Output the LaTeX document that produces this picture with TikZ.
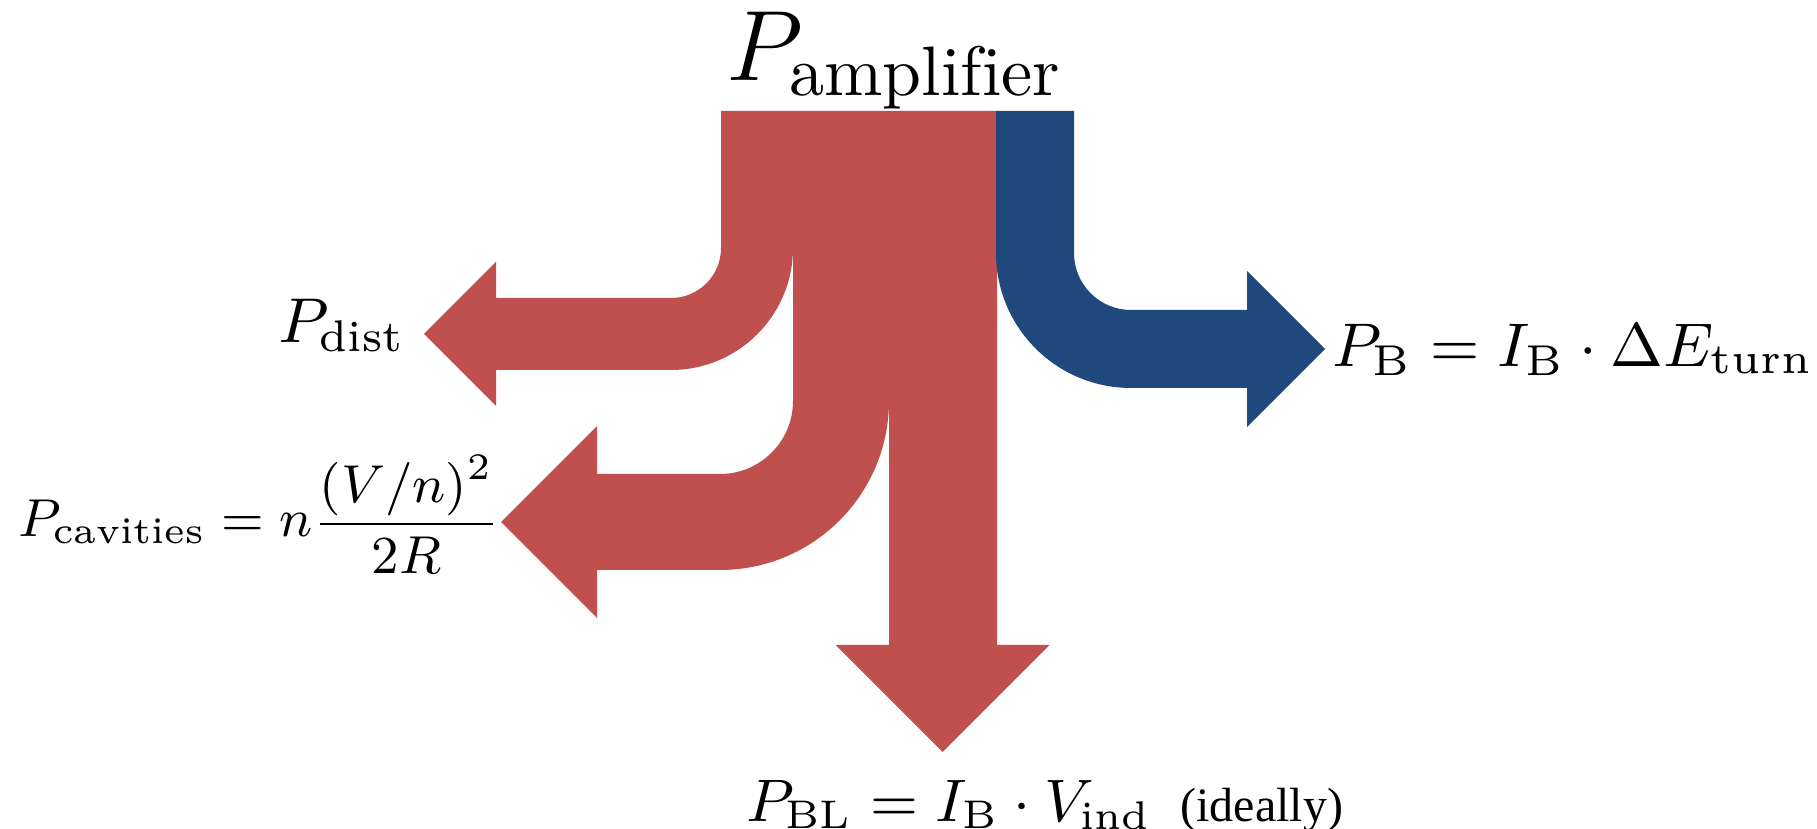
\RequirePackage{fix-cm}
\documentclass[tikz,border=0pt]{standalone}
\usepackage{fontspec}
\usepackage{amsmath}
\newfontfamily\remarkfont{Liberation Serif}
\definecolor{lossred}{RGB}{192,80,77}
\definecolor{beamblue}{RGB}{31,73,125}

\begin{document}
\begin{tikzpicture}[x=0.15pt, y=0.15pt,
		lbl/.style={inner sep=0pt, anchor=base west}]
			\useasboundingbox (0,0) rectangle (1817,829);
			\def\yt{718}
			% red part of the amplifier power: dist, cavities, beam loading
			\fill[lossred]
				(721,\yt) -- (721,581) arc[start angle=0, end angle=-90, radius=50]
				-- (496,531) -- (496,567) -- (424,495) -- (496,423) -- (496,459) -- (671,459)
				arc[start angle=-90, end angle=0, radius=122] -- (793,\yt) -- cycle
				(793,\yt) -- (793,428) arc[start angle=0, end angle=-90, radius=73]
				-- (597,355) -- (597,403) -- (501,307) -- (597,211) -- (597,259) -- (720,259)
				arc[start angle=-90, end angle=0, radius=169] -- (889,\yt) -- cycle
				(889,\yt) -- (889,184) -- (835.5,184) -- (942.5,77) -- (1049.5,184)
				-- (997,184) -- (997,\yt) -- cycle;
			% blue part: power to the beam
			\fill[beamblue] (996,\yt) -- (996,576) arc[start angle=180, end angle=270, radius=135]
				-- (1247,441) -- (1247,402) -- (1325,480) -- (1247,558) -- (1247,519) -- (1131,519)
				arc[start angle=270, end angle=180, radius=57] -- (1074,\yt) -- cycle;

			\node[lbl, anchor=base, font=\fontsize{15}{18}\selectfont] (amp) at (895,748) {$P_\mathrm{amplifier}$};
			\node[lbl, font=\fontsize{9.5}{12}\selectfont] (pdist) at (277,486) {$P_\mathrm{dist}$};
			\node[lbl, font=\fontsize{9.1}{11}\selectfont] (pcav) at (17,292)
				{\scalebox{0.88}{$P_\mathrm{cavities} = n\dfrac{(V/n)^2}{2R}$}};
			\node[lbl, font=\fontsize{9.25}{11}\selectfont] (pb) at (1331,462) {$P_\mathrm{B} = I_\mathrm{B}\cdot\Delta E_\mathrm{turn}$};
			\node[lbl, font=\fontsize{9}{11}\selectfont] (pbl) at (745,7)
				{$P_\mathrm{BL} = I_\mathrm{B}\cdot V_\mathrm{ind}$\hspace{4.3pt}{\remarkfont\fontsize{7.2}{9}\selectfont(ideally)}};
		\end{tikzpicture}
\end{document}
